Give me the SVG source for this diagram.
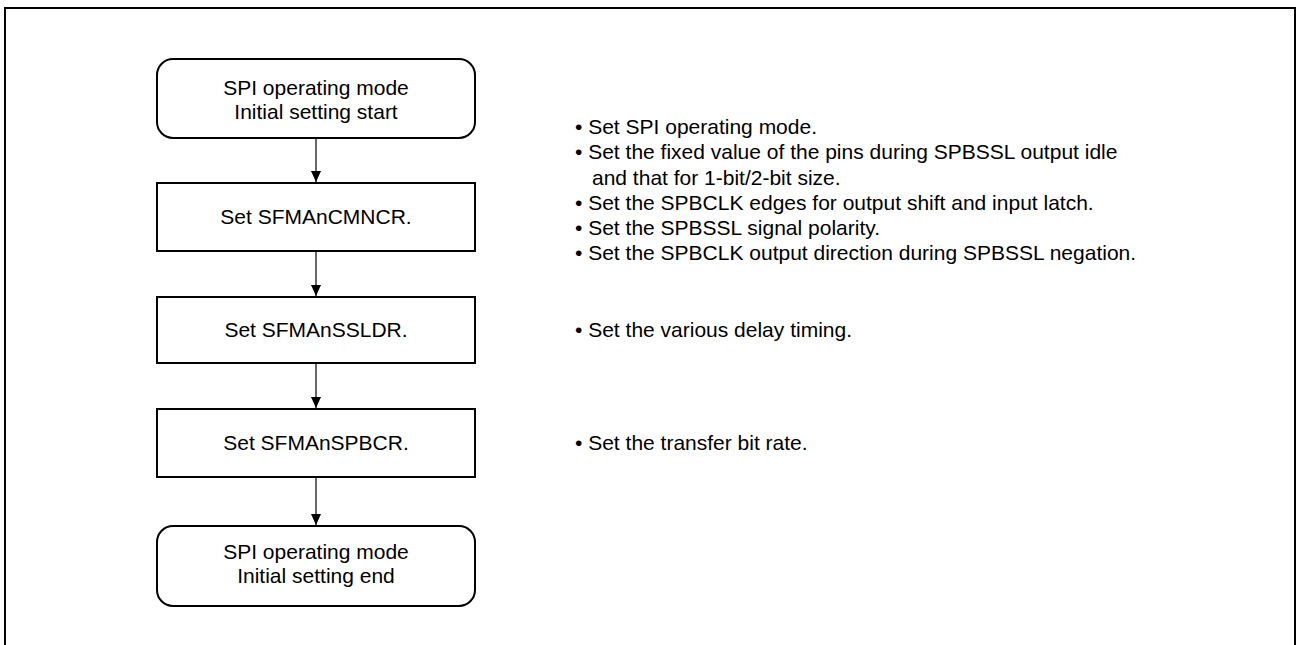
<svg xmlns="http://www.w3.org/2000/svg" width="1300" height="645" viewBox="0 0 1300 645">
<style>
.box{fill:#fff;stroke:#000;stroke-width:2}
.t{font-family:"Liberation Sans",Arial,sans-serif;font-size:21px;fill:#000}
.c{text-anchor:middle}
.conn{stroke:#000;stroke-width:1.2;fill:none}
</style>
<defs>
<marker id="ah" markerWidth="11" markerHeight="10" refX="11" refY="5" orient="auto" markerUnits="userSpaceOnUse" viewBox="0 0 11 10">
<path d="M0,0 L11,5 L0,10 Z" fill="#000"/>
</marker>
</defs>
<rect x="0" y="0" width="1300" height="645" fill="#fff"/>
<rect x="5" y="8" width="1290" height="660" fill="none" stroke="#000" stroke-width="2"/>
<g id="connectors">
<line class="conn" x1="316" y1="138" x2="316" y2="182" marker-end="url(#ah)"/>
<line class="conn" x1="316" y1="251" x2="316" y2="296" marker-end="url(#ah)"/>
<line class="conn" x1="316" y1="363" x2="316" y2="408" marker-end="url(#ah)"/>
<line class="conn" x1="316" y1="477" x2="316" y2="525" marker-end="url(#ah)"/>
</g>
<g id="start">
<rect class="box" x="157" y="59" width="318" height="79" rx="16" ry="16"/>
<text class="t c" x="316" y="95">SPI operating mode</text>
<text class="t c" x="316" y="119">Initial setting start</text>
</g>
<g id="cmncr">
<rect class="box" x="157" y="183" width="318" height="68"/>
<text class="t c" x="316" y="224">Set SFMAnCMNCR.</text>
</g>
<g id="ssldr">
<rect class="box" x="157" y="297" width="318" height="66"/>
<text class="t c" x="316" y="337">Set SFMAnSSLDR.</text>
</g>
<g id="spbcr">
<rect class="box" x="157" y="409" width="318" height="68"/>
<text class="t c" x="316" y="450">Set SFMAnSPBCR.</text>
</g>
<g id="end">
<rect class="box" x="157" y="526" width="318" height="80" rx="16" ry="16"/>
<text class="t c" x="316" y="559">SPI operating mode</text>
<text class="t c" x="316" y="583">Initial setting end</text>
</g>
<g id="notes">
<text class="t" x="575" y="134">• Set SPI operating mode.</text>
<text class="t" x="575" y="159">• Set the fixed value of the pins during SPBSSL output idle</text>
<text class="t" x="592" y="185">and that for 1-bit/2-bit size.</text>
<text class="t" x="575" y="210">• Set the SPBCLK edges for output shift and input latch.</text>
<text class="t" x="575" y="235">• Set the SPBSSL signal polarity.</text>
<text class="t" x="575" y="260">• Set the SPBCLK output direction during SPBSSL negation.</text>
<text class="t" x="575" y="337">• Set the various delay timing.</text>
<text class="t" x="575" y="450">• Set the transfer bit rate.</text>
</g>
</svg>
